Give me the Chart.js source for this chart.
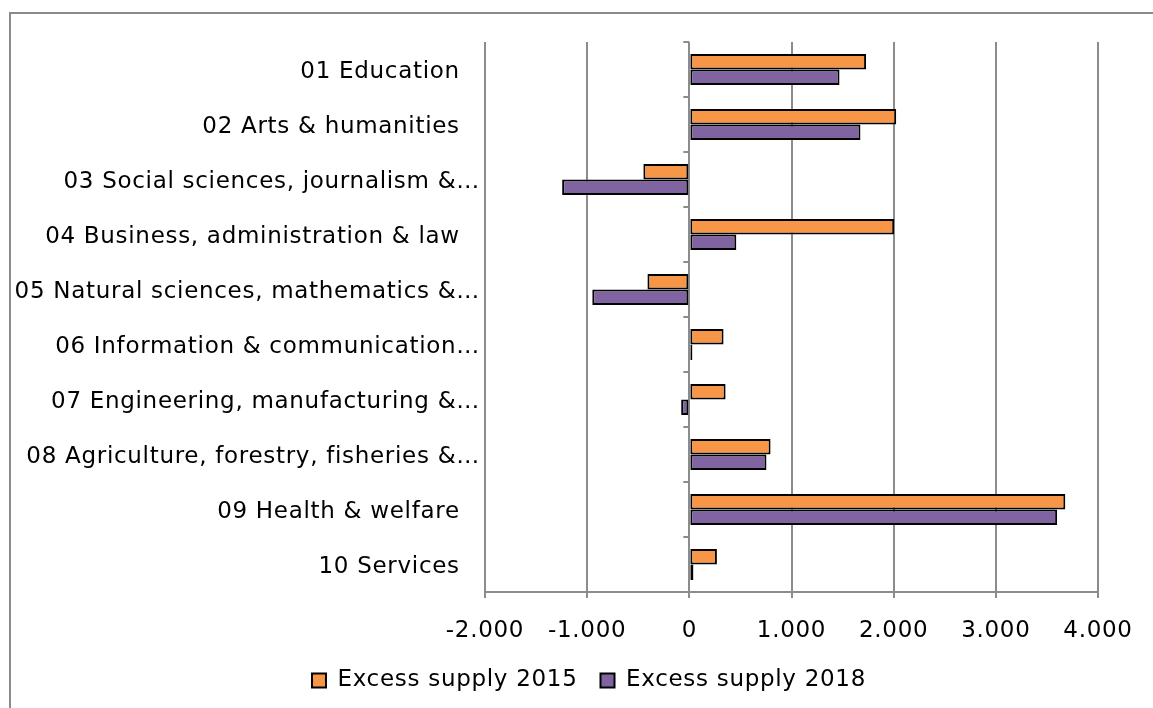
<!DOCTYPE html>
<html>
<head>
<meta charset="utf-8">
<script src="https://cdn.jsdelivr.net/npm/chart.js@4/dist/chart.umd.min.js"></script>
<style>
  html, body { margin: 0; padding: 0; background: #fff; overflow: hidden; }
  #frame { position: absolute; left: 9px; top: 12px; width: 1300px; height: 900px; border: 2px solid #8a8a8a; }
  #wrap { position: absolute; left: 0; top: 0; width: 1153px; height: 708px; }
</style>
</head>
<body>
<div id="frame"></div>
<div id="wrap"><canvas id="chart" width="1153" height="708"></canvas></div>
<script>
var categories = [
  "01 Education\u2002 ",
  "02 Arts & humanities\u2002 ",
  "03 Social sciences, journalism &\u2026",
  "04 Business, administration & law\u2002 ",
  "05 Natural sciences, mathematics &\u2026",
  "06 Information & communication\u2026",
  "07 Engineering, manufacturing &\u2026",
  "08 Agriculture, forestry, fisheries &\u2026",
  "09 Health & welfare\u2002 ",
  "10 Services\u2002 "
];
var supply2015 = [1730, 2025, -450, 2005, -410, 335, 355, 795, 3680, 270];
var supply2018 = [1470, 1675, -1245, 460, -950, 30, -80, 755, 3600, 40];
var xTicks = [-2000, -1000, 0, 1000, 2000, 3000, 4000];

var gridGray = "#8c8c8c";
var fontFamily = "'DejaVu Sans', Verdana, sans-serif";
var fontSize = 23;

// wider letter spacing, closer to the Verdana look
var spacing = {
  id: "spacing",
  beforeUpdate: function(chart) { chart.ctx.letterSpacing = "0.7px"; },
  beforeDraw: function(chart) { chart.ctx.letterSpacing = "0.7px"; }
};

// centre the legend under the framed area rather than the padded canvas
var legendShift = {
  id: "legendShift",
  afterLayout: function(chart) {
    chart.legend.left += 40;
    chart.legend.right += 40;
  }
};

// short tick marks on the zero line between categories
var zeroTicks = {
  id: "zeroTicks",
  afterDatasetsDraw: function(chart) {
    var ctx = chart.ctx;
    var x = chart.scales.x.getPixelForValue(0);
    var y = chart.scales.y;
    var step = (y.bottom - y.top) / categories.length;
    ctx.save();
    ctx.strokeStyle = gridGray;
    ctx.lineWidth = 2;
    for (var i = 0; i <= categories.length; i++) {
      var yy = y.top + i * step;
      ctx.beginPath();
      ctx.moveTo(x - 6, yy);
      ctx.lineTo(x, yy);
      ctx.stroke();
    }
    ctx.restore();
  }
};

var config = {
  type: "bar",
  data: {
    labels: categories,
    datasets: [{
      label: "Excess supply 2015",
      data: supply2015,
      backgroundColor: "#F79646",
      borderColor: "#000",
      borderWidth: 2,
      borderSkipped: false
    }, {
      label: "Excess supply 2018",
      data: supply2018,
      backgroundColor: "#8064A2",
      borderColor: "#000",
      borderWidth: 2,
      borderSkipped: false
    }]
  },
  plugins: [spacing, legendShift, zeroTicks],
  options: {
    indexAxis: "y",
    responsive: false,
    animation: false,
    locale: "de-DE",
    layout: { padding: { top: 42, right: 55, bottom: 6, left: 0 } },
    datasets: { bar: { barPercentage: 1, categoryPercentage: 0.56 } },
    scales: {
      x: {
        min: -2000,
        max: 4000,
        afterBuildTicks: function(scale) {
          scale.ticks = xTicks.map(function(v) { return { value: v }; });
        },
        afterFit: function(scale) { scale.height = 54; },
        grid: { color: gridGray, lineWidth: 2, tickLength: 6, tickColor: gridGray },
        border: { color: gridGray, width: 2 },
        ticks: {
          color: "#000",
          padding: 19,
          font: { family: fontFamily, size: fontSize }
        }
      },
      y: {
        afterFit: function(scale) { scale.width = 485; },
        grid: { display: false, drawTicks: false },
        border: { display: false },
        ticks: {
          color: "#000",
          padding: 5,
          labelOffset: 3,
          autoSkip: false,
          font: { family: fontFamily, size: fontSize }
        }
      }
    },
    plugins: {
      tooltip: { enabled: false },
      legend: {
        position: "bottom",
        labels: {
          color: "#000",
          boxWidth: 14,
          boxHeight: 14,
          padding: 23,
          font: { family: fontFamily, size: fontSize }
        }
      }
    }
  }
};

var ctx = document.getElementById("chart");
window.myChart = new Chart(ctx, config);
</script>
</body>
</html>
